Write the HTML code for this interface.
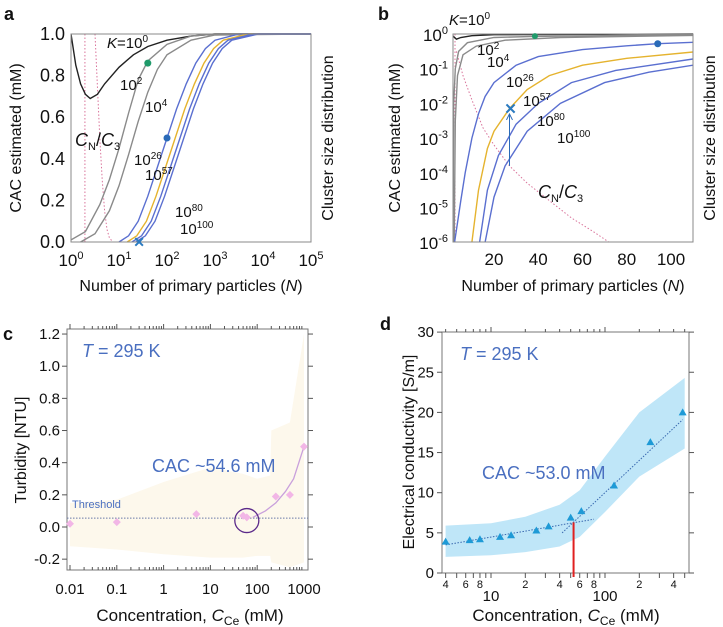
<!DOCTYPE html>
<html><head><meta charset="utf-8"><style>
html,body{margin:0;padding:0;background:#fff;}
svg{display:block;font-family:"Liberation Sans",Arial,sans-serif;}
</style></head><body>
<svg id="fig" width="723" height="627" viewBox="0 0 723 627"></svg>
<script>
// ---------- Panel a data (log10 N, CAC) ----------
const aK0=[[0,1.0],[0.1,0.85],[0.2,0.76],[0.3,0.71],[0.4,0.69],[0.55,0.71],[0.7,0.76],[1,0.84],[1.3,0.9],[1.6,0.94],[2,0.97],[2.5,0.99],[3,1],[5,1]];
const aK2=[[0,0.01],[0.3,0.05],[0.6,0.18],[0.8,0.3],[1,0.45],[1.2,0.62],[1.4,0.78],[1.6,0.87],[2,0.95],[2.5,0.99],[3,1],[5,1]];
const aK4=[[0.2,0],[0.5,0.04],[0.8,0.15],[1,0.27],[1.2,0.42],[1.4,0.58],[1.6,0.72],[1.8,0.83],[2,0.9],[2.5,0.97],[3,0.995],[5,1]];
const aK26=[[1,0],[1.2,0.03],[1.4,0.1],[1.6,0.22],[1.8,0.36],[2,0.5],[2.2,0.64],[2.4,0.76],[2.6,0.86],[2.8,0.93],[3,0.97],[3.5,1],[5,1]];
const aK57=[[1.17,0],[1.37,0.03],[1.57,0.1],[1.77,0.22],[1.97,0.36],[2.17,0.5],[2.37,0.64],[2.57,0.76],[2.77,0.86],[2.97,0.93],[3.17,0.97],[3.7,1],[5,1]];
const aK80=[[1.27,0],[1.47,0.03],[1.67,0.1],[1.87,0.22],[2.07,0.36],[2.27,0.5],[2.47,0.64],[2.67,0.76],[2.87,0.86],[3.07,0.93],[3.27,0.97],[3.8,1],[5,1]];
const aK100=[[1.35,0],[1.55,0.03],[1.75,0.1],[1.95,0.22],[2.15,0.36],[2.35,0.5],[2.55,0.64],[2.75,0.76],[2.95,0.86],[3.15,0.93],[3.35,0.97],[3.9,1],[5,1]];
const aDist=[[0.5,1],[0.55,0.75],[0.6,0.5],[0.65,0.3],[0.7,0.15],[0.75,0.06],[0.8,0.02],[0.87,0]];
const aGreen=[1.6,0.86], aBlue=[2.0,0.5], aCross=[1.42,0];
const aXTicks=[0,1,2,3,4,5];
const aYTicks=[0,0.2,0.4,0.6,0.8,1.0];
// ---------- Panel b data (N, log10 CAC) ----------
const bK0=[[1.3,-0.05],[3,-0.15],[5,-0.1],[10,-0.05],[20,-0.02],[110,0]];
const bK2=[[1.5,-6],[1.8,-2],[2.5,-1],[4,-0.5],[8,-0.25],[20,-0.1],[38,-0.07],[110,-0.02]];
const bK4=[[2,-6],[2.5,-2.5],[3.5,-1.2],[6,-0.6],[12,-0.35],[25,-0.18],[50,-0.1],[110,-0.04]];
const bK26=[[2.2,-6],[5,-4.8],[7,-4],[10,-3],[13,-2.3],[16,-1.8],[20,-1.4],[30,-0.9],[40,-0.65],[60,-0.45],[80,-0.34],[94,-0.28],[110,-0.24]];
const bK57=[[10,-6],[13,-4.5],[17,-3.3],[20,-2.8],[27,-2.15],[35,-1.6],[45,-1.2],[60,-0.9],[80,-0.7],[110,-0.52]];
const bK80=[[13.5,-6],[17,-4.5],[22,-3.5],[30,-2.6],[40,-2],[55,-1.4],[75,-1.05],[110,-0.72]];
const bK100=[[16,-6],[20,-4.7],[25,-3.8],[35,-2.8],[50,-2],[70,-1.4],[90,-1.1],[110,-0.9]];
const bDist=[[3,-0.5],[6,-1.2],[10,-1.9],[15,-2.7],[20,-3.2],[27,-3.8],[35,-4.3],[45,-4.8],[55,-5.3],[65,-5.7],[72,-6]];
const bGreen=[38.5,-0.06], bBlue=[94,-0.28], bCross=[27.5,-2.16], bArrowBase=[27,-3.8];
const bXTicks=[20,40,60,80,100];
const bYTicks=[0,-1,-2,-3,-4,-5,-6];
// ---------- Panel c data ----------
const cX=[0.01,0.1,5,50,60,250,500,1000];
const cY=[0.02,0.03,0.08,0.07,0.06,0.19,0.2,0.5];
const cBandX=[0.01,0.1,1,10,50,100,190,200,500,1000];
const cBandHi=[0.15,0.17,0.28,0.37,0.33,0.3,0.32,0.6,0.65,1.2];
const cBandLo=[-0.12,-0.14,-0.17,-0.19,-0.19,-0.18,-0.18,-0.22,-0.25,-0.22];
const cFitX=[80,150,250,400,600,1000];
const cFitY=[0.06,0.1,0.15,0.22,0.3,0.5];
const cThreshold=0.055, cCAC=[60,0.04];
const cXTicks=[0.01,0.1,1,10,100,1000];
const cXLabels=["0.01","0.1","1","10","100","1000"];
const cYTicks=[-0.2,0,0.2,0.4,0.6,0.8,1.0,1.2];
// ---------- Panel d data ----------
const dX=[4,6.5,8,12,15,25,32,50,62,120,250,480];
const dY=[3.9,4.1,4.2,4.5,4.7,5.3,5.8,6.9,7.7,10.9,16.3,20];
const dBandX=[4,10,20,40,60,100,200,500];
const dBandHi=[5.9,6.2,7,8.5,10.3,14.5,20,24.3];
const dBandLo=[2,2.2,2.6,3.3,4.5,7.6,12,15.5];
const dFitLow=[[4,3.5],[80,6.7]];
const dFitHigh=[[42,5],[480,19.1]];
const dCAC=[53,6.3];
const dYTicks=[0,5,10,15,20,25,30];
const dMinorX=[4,6,8,20,40,60,80,200,400];
const dMinorLabels=["4","6","8","2","4","6","8","2","4"];
const dMajorX=[10,100];

const svg=document.getElementById('fig');
const NS='http://www.w3.org/2000/svg';
function mk(tag,attrs,name,parent){const e=document.createElementNS(NS,tag);for(const k in attrs)e.setAttribute(k,attrs[k]);


(parent||svg).appendChild(e);return e;}
function txt(x,y,s,size,name,extra){const e=mk('text',Object.assign({x:x,y:y,'font-size':size,fill:'#111'},extra||{}),name);e.innerHTML=s;return e;}
function pathOf(pts,fx,fy){return pts.map((p,i)=>(i?'L':'M')+fx(p[0]).toFixed(1)+','+fy(p[1]).toFixed(1)).join('');}
function clip(id,x,y,w,h){const d=mk('clipPath',{id:id},'clip-'+id);mk('rect',{x:x,y:y,width:w,height:h},'clip-rect',d);}

// ===== Panel a =====
const ax=v=>71+v*48, ay=v=>242-v*208;
clip('ca',71,33,241,210);
txt(4,20,'a',18,'panel-a-label',{'font-weight':'bold'});
const ga=mk('g',{'clip-path':'url(#ca)'},'panel-a-plot');
mk('line',{x1:ax(0.29),y1:34,x2:ax(0.29),y2:242,stroke:'#d9739a','stroke-width':1,'stroke-dasharray':'1.5,2'},'cluster-dist-vertical',ga);
mk('path',{d:pathOf(aDist,ax,ay),fill:'none',stroke:'#d9739a','stroke-width':1,'stroke-dasharray':'1.5,2'},'cluster-dist-curve',ga);
[[aK0,'#222','curve-k1'],[aK2,'#8a8a8a','curve-k2'],[aK4,'#8a8a8a','curve-k4'],[aK26,'#5a6fd0','curve-k26'],[aK57,'#e5b32e','curve-k57'],[aK80,'#5a6fd0','curve-k80'],[aK100,'#5a6fd0','curve-k100']].forEach(c=>{
 mk('path',{d:pathOf(c[0],ax,ay),fill:'none',stroke:c[1],'stroke-width':1.4},c[2],ga);});
mk('rect',{x:71,y:34,width:240,height:208,fill:'none',stroke:'#888','stroke-width':1},'panel-a-frame');
mk('circle',{cx:ax(aGreen[0]),cy:ay(aGreen[1]),r:3.5,fill:'#1f9a6a'},'green-marker');
mk('circle',{cx:ax(aBlue[0]),cy:ay(aBlue[1]),r:3.5,fill:'#2a6ab8'},'blue-marker');
txt(ax(aCross[0]),ay(aCross[1])+5,'✕',14,'cross-marker',{fill:'#2a7ac0','text-anchor':'middle','font-weight':'bold'});
aYTicks.forEach(v=>{txt(65,ay(v)+6,v.toFixed(1),18,'y-tick-label',{'text-anchor':'end'});});
aXTicks.forEach(v=>{txt(ax(v),266,'10<tspan dy="-7" font-size="11">'+v+'</tspan>',17,'x-tick-label',{'text-anchor':'middle'});});
txt(191,291,'Number of primary particles (<tspan font-style="italic">N</tspan>)',16,'x-axis-title',{'text-anchor':'middle'});
txt(0,0,'CAC estimated (mM)',16,'y-axis-title',{'text-anchor':'middle',transform:'translate(21,138) rotate(-90)'});
txt(0,0,'Cluster size distribution',16,'right-axis-title',{'text-anchor':'middle',transform:'translate(333,138) rotate(-90)'});
txt(107,48,'<tspan font-style="italic">K</tspan>=10<tspan dy="-6" font-size="10">0</tspan>',15,'label-k1');
txt(120,90,'10<tspan dy="-6" font-size="10">2</tspan>',15,'label-k2');
txt(145,112,'10<tspan dy="-6" font-size="10">4</tspan>',15,'label-k4');
txt(134,165,'10<tspan dy="-6" font-size="10">26</tspan>',15,'label-k26');
txt(145,180,'10<tspan dy="-6" font-size="10">57</tspan>',15,'label-k57');
txt(175,217,'10<tspan dy="-6" font-size="10">80</tspan>',15,'label-k80');
txt(180,234,'10<tspan dy="-6" font-size="10">100</tspan>',15,'label-k100');
txt(75,146,'<tspan font-style="italic">C</tspan><tspan dy="4" font-size="11">N</tspan><tspan dy="-4">/</tspan><tspan font-style="italic">C</tspan><tspan dy="4" font-size="11">3</tspan>',18,'label-cn-c3');

// ===== Panel b =====
const bx=v=>494+(v-20)*2.2125, by=v=>34-v*34.7;
clip('cb',453,33,240,210);
txt(378,20,'b',18,'panel-b-label',{'font-weight':'bold'});
const gb=mk('g',{'clip-path':'url(#cb)'},'panel-b-plot');
mk('line',{x1:455,y1:34,x2:455,y2:242,stroke:'#d9739a','stroke-width':1,'stroke-dasharray':'1.5,2'},'cluster-dist-vertical',gb);
mk('path',{d:pathOf(bDist,bx,by),fill:'none',stroke:'#d9739a','stroke-width':1,'stroke-dasharray':'1.5,2'},'cluster-dist-curve',gb);
[[bK0,'#222','curve-k1'],[bK2,'#8a8a8a','curve-k2'],[bK4,'#8a8a8a','curve-k4'],[bK26,'#5a6fd0','curve-k26'],[bK57,'#e5b32e','curve-k57'],[bK80,'#5a6fd0','curve-k80'],[bK100,'#5a6fd0','curve-k100']].forEach(c=>{
 mk('path',{d:pathOf(c[0],bx,by),fill:'none',stroke:c[1],'stroke-width':1.4},c[2],gb);});
mk('line',{x1:bx(bArrowBase[0]),y1:by(bArrowBase[1]),x2:bx(bArrowBase[0]),y2:by(bCross[1])+6,stroke:'#2a6ab8','stroke-width':1},'arrow-line');
mk('path',{d:'M'+(bx(bArrowBase[0])-3)+','+(by(bCross[1])+11)+'l3,-6l3,6',fill:'none',stroke:'#2a6ab8','stroke-width':1},'arrow-head');
mk('rect',{x:453,y:34,width:240,height:208,fill:'none',stroke:'#888','stroke-width':1},'panel-b-frame');
mk('circle',{cx:bx(bGreen[0]),cy:by(bGreen[1]),r:3,fill:'#1f9a6a'},'green-marker');
mk('circle',{cx:bx(bBlue[0]),cy:by(bBlue[1]),r:3.5,fill:'#2a6ab8'},'blue-marker');
txt(bx(bCross[0]),by(bCross[1])+5,'✕',15,'cross-marker',{fill:'#2a7ac0','text-anchor':'middle','font-weight':'bold'});
bYTicks.forEach(v=>{txt(448,by(v)+7,'10<tspan dy="-7" font-size="11">'+v+'</tspan>',17,'y-tick-label',{'text-anchor':'end'});});
bXTicks.forEach(v=>{txt(bx(v),265,String(v),17,'x-tick-label',{'text-anchor':'middle'});});
txt(573,291,'Number of primary particles (<tspan font-style="italic">N</tspan>)',16,'x-axis-title',{'text-anchor':'middle'});
txt(0,0,'CAC estimated (mM)',16,'y-axis-title',{'text-anchor':'middle',transform:'translate(400,138) rotate(-90)'});
txt(0,0,'Cluster size distribution',16,'right-axis-title',{'text-anchor':'middle',transform:'translate(715,138) rotate(-90)'});
txt(449,25,'<tspan font-style="italic">K</tspan>=10<tspan dy="-6" font-size="10">0</tspan>',15,'label-k1');
txt(477,55,'10<tspan dy="-6" font-size="10">2</tspan>',15,'label-k2');
txt(487,67,'10<tspan dy="-6" font-size="10">4</tspan>',15,'label-k4');
txt(506,87,'10<tspan dy="-6" font-size="10">26</tspan>',15,'label-k26');
txt(523,106,'10<tspan dy="-6" font-size="10">57</tspan>',15,'label-k57');
txt(537,126,'10<tspan dy="-6" font-size="10">80</tspan>',15,'label-k80');
txt(557,143,'10<tspan dy="-6" font-size="10">100</tspan>',15,'label-k100');
txt(538,198,'<tspan font-style="italic">C</tspan><tspan dy="4" font-size="11">N</tspan><tspan dy="-4">/</tspan><tspan font-style="italic">C</tspan><tspan dy="4" font-size="11">3</tspan>',18,'label-cn-c3');

// ===== Panel c =====
const cx=v=>70+(Math.log10(v)+2)*46.8, cy=v=>527-v*160.8;
txt(3,340,'c',18,'panel-c-label',{'font-weight':'bold'});
let bandC='M'+cBandX.map((x,i)=>cx(x).toFixed(1)+','+cy(cBandHi[i]).toFixed(1)).join('L');
for(let i=cBandX.length-1;i>=0;i--)bandC+='L'+cx(cBandX[i]).toFixed(1)+','+cy(cBandLo[i]).toFixed(1);
mk('path',{d:bandC+'Z',fill:'#fdf8ec'},'uncertainty-band');
mk('rect',{x:67,y:329,width:241,height:241,fill:'none',stroke:'#777','stroke-width':1},'panel-c-frame');
mk('line',{x1:67,y1:cy(cThreshold),x2:308,y2:cy(cThreshold),stroke:'#6a7aa8','stroke-width':1,'stroke-dasharray':'1.5,1.5'},'threshold-line');
txt(72,508,'Threshold',11,'threshold-label',{fill:'#4a6fc0'});
mk('path',{d:'M'+cFitX.map((x,i)=>cx(x).toFixed(1)+','+cy(cFitY[i]).toFixed(1)).join('L'),fill:'none',stroke:'#c9a0dc','stroke-width':1.3},'fit-curve');
cX.forEach((x,i)=>{const X=cx(x),Y=cy(cY[i]);mk('path',{d:`M${X},${Y-4}L${X+4},${Y}L${X},${Y+4}L${X-4},${Y}Z`,fill:'#f2b6e6'},'data-point');});
mk('circle',{cx:cx(cCAC[0]),cy:cy(cCAC[1]),r:12,fill:'none',stroke:'#5b2a8a','stroke-width':1.3},'cac-circle');
cYTicks.forEach(v=>{mk('line',{x1:62,y1:cy(v),x2:67,y2:cy(v),stroke:'#555'},'y-tick');mk('line',{x1:308,y1:cy(v),x2:313,y2:cy(v),stroke:'#555'},'right-tick');
 txt(60,cy(v)+5,v.toFixed(1),15,'y-tick-label',{'text-anchor':'end'});});
for(let d=-2;d<3;d++)for(let m=1;m<10;m++){const X=cx(Math.pow(10,d)*m);const L=m==1?5:3;
 mk('line',{x1:X,y1:570,x2:X,y2:570-L,stroke:'#555'},'x-tick');mk('line',{x1:X,y1:329,x2:X,y2:329-L,stroke:'#555'},'top-tick');}
cXTicks.forEach((v,i)=>{txt(cx(v),594,cXLabels[i],15,'x-tick-label',{'text-anchor':'middle'});});
txt(190,621,'Concentration, <tspan font-style="italic">C</tspan><tspan dy="4" font-size="12">Ce</tspan><tspan dy="-4"> (mM)</tspan>',17,'x-axis-title',{'text-anchor':'middle'});
txt(0,0,'Turbidity [NTU]',16,'y-axis-title',{'text-anchor':'middle',transform:'translate(26,450) rotate(-90)'});
txt(82,357,'<tspan font-style="italic">T</tspan> = 295 K',18,'temperature-label',{fill:'#4a6fc0'});
txt(152,472,'CAC ~54.6 mM',18,'cac-label',{fill:'#4a6fc0'});

// ===== Panel d =====
const dx=v=>491+(Math.log10(v)-1)*114, dy=v=>573-v*8.03;
txt(380,330,'d',18,'panel-d-label',{'font-weight':'bold'});
let bandD='M'+dBandX.map((x,i)=>dx(x).toFixed(1)+','+dy(dBandHi[i]).toFixed(1)).join('L');
for(let i=dBandX.length-1;i>=0;i--)bandD+='L'+dx(dBandX[i]).toFixed(1)+','+dy(dBandLo[i]).toFixed(1);
mk('path',{d:bandD+'Z',fill:'#bfe6f8'},'uncertainty-band');
mk('rect',{x:442,y:332,width:247,height:241,fill:'none',stroke:'#777','stroke-width':1},'panel-d-frame');
mk('path',{d:pathOf(dFitLow,dx,dy),stroke:'#3a6ab0','stroke-width':1,'stroke-dasharray':'1.5,1.5',fill:'none'},'fit-low');
mk('path',{d:pathOf(dFitHigh,dx,dy),stroke:'#3a6ab0','stroke-width':1,'stroke-dasharray':'1.5,1.5',fill:'none'},'fit-high');
mk('line',{x1:dx(dCAC[0]),y1:dy(dCAC[1]),x2:dx(dCAC[0]),y2:577,stroke:'#e02020','stroke-width':2},'cac-marker-line');
dX.forEach((x,i)=>{const X=dx(x),Y=dy(dY[i]);mk('path',{d:`M${X},${Y-4}L${X+4},${Y+3}L${X-4},${Y+3}Z`,fill:'#1e9ad6'},'data-point');});
dYTicks.forEach(v=>{mk('line',{x1:437,y1:dy(v),x2:442,y2:dy(v),stroke:'#555'},'y-tick');mk('line',{x1:689,y1:dy(v),x2:694,y2:dy(v),stroke:'#555'},'right-tick');
 txt(434,dy(v)+5,String(v),15,'y-tick-label',{'text-anchor':'end'});});
for(let d=0;d<3;d++)for(let m=1;m<10;m++){const v=Math.pow(10,d)*m;if(v<4||v>548)continue;const X=dx(v);const L=m==1?5:3;
 mk('line',{x1:X,y1:573,x2:X,y2:578,stroke:'#555'},'x-tick');mk('line',{x1:X,y1:332,x2:X,y2:332-L,stroke:'#555'},'top-tick');}
dMinorX.forEach((v,i)=>{txt(dx(v),588,dMinorLabels[i],11,'x-minor-label',{'text-anchor':'middle'});});
dMajorX.forEach(v=>{txt(dx(v),601,String(v),15,'x-tick-label',{'text-anchor':'middle'});});
txt(566,621,'Concentration, <tspan font-style="italic">C</tspan><tspan dy="4" font-size="12">Ce</tspan><tspan dy="-4"> (mM)</tspan>',17,'x-axis-title',{'text-anchor':'middle'});
txt(0,0,'Electrical conductivity [S/m]',16,'y-axis-title',{'text-anchor':'middle',transform:'translate(414,452) rotate(-90)'});
txt(460,360,'<tspan font-style="italic">T</tspan> = 295 K',18,'temperature-label',{fill:'#4a6fc0'});
txt(482,479,'CAC ~53.0 mM',18,'cac-label',{fill:'#4a6fc0'});
</script>
</body></html>
